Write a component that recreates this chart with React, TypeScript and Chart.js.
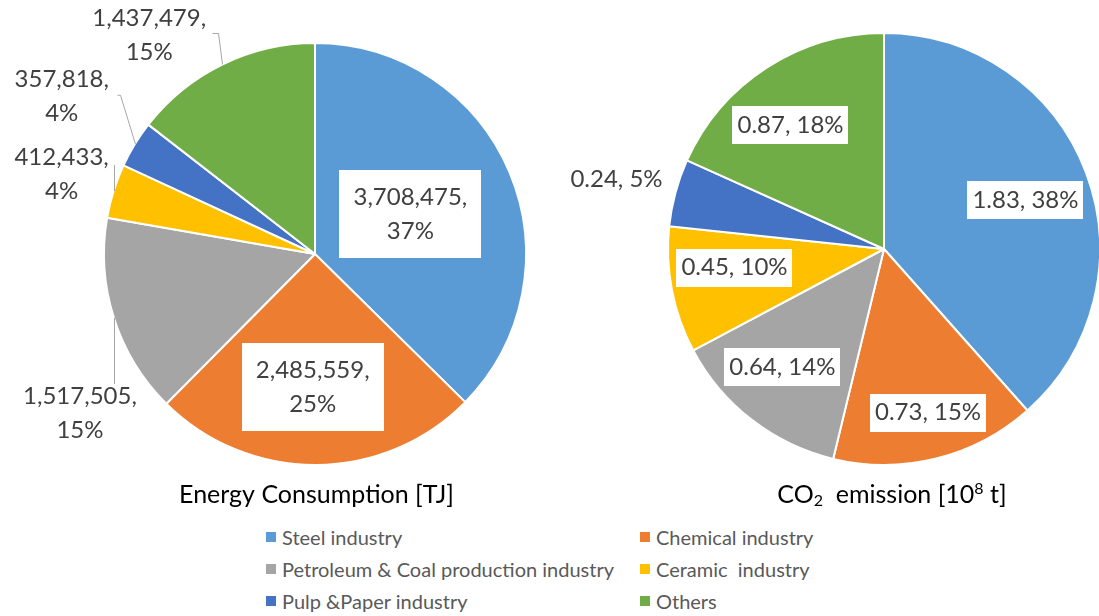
import React, { useEffect, useRef } from "react";
import { Chart, registerables } from "chart.js";

Chart.register(...registerables);

// ---------- data ----------
const categories = [
  "Steel industry",
  "Chemical industry",
  "Petroleum & Coal production industry",
  "Ceramic  industry",
  "Pulp &Paper industry",
  "Others",
];
const colors = ["#5B9BD5", "#ED7D31", "#A5A5A5", "#FFC000", "#4472C4", "#70AD47"];
const energyValues = [3708475, 2485559, 1517505, 412433, 357818, 1437479];
const energyPercents = ["37%", "25%", "15%", "4%", "4%", "15%"];
const co2Values = [1.83, 0.73, 0.64, 0.45, 0.24, 0.87];
const co2Percents = ["38%", "15%", "14%", "10%", "5%", "18%"];

const energyTexts = energyValues.map((v, i) => [v.toLocaleString("en-US") + ",", energyPercents[i]]);
const co2Texts = co2Values.map((v, i) => [v.toFixed(2) + ", " + co2Percents[i]]);

// ---------- label layout (styling) ----------
type LabelLayout = {
  mode: "box" | "out";
  r?: number;
  dx: number;
  dy: number;
  leader?: number[][];
};

const energyLayout: LabelLayout[] = [
  { mode: "box", r: 0.49, dx: 0, dy: 0 },
  { mode: "box", r: 0.63, dx: -3, dy: 0 },
  { mode: "out", dx: -34, dy: 95, leader: [[0, 0], [0, 66]] },
  { mode: "out", dx: -52, dy: -17, leader: [[0, 0], [0, -26]] },
  { mode: "out", dx: -73, dy: -48, leader: [[0, 0], [-15, -49], [-18, -49]] },
  { mode: "out", dx: -73, dy: -29, leader: [[0, 0], [-4, -31], [-10, -31]] },
];

const co2Layout: LabelLayout[] = [
  { mode: "box", r: 0.693, dx: 1.5, dy: 4 },
  { mode: "box", r: 0.786, dx: 3, dy: -1 },
  { mode: "box", r: 0.722, dx: -6, dy: -5 },
  { mode: "box", r: 0.698, dx: -1.5, dy: -10 },
  { mode: "out", dx: -59, dy: -13 },
  { mode: "box", r: 0.72, dx: -9, dy: 6.5 },
];

type Seg = { t: string; sub?: boolean; sup?: boolean };
const energyTitle: Seg[] = [{ t: "Energy Consumption [TJ]" }];
const co2Title: Seg[] = [
  { t: "CO" },
  { t: "2", sub: true },
  { t: "  emission [10" },
  { t: "8", sup: true },
  { t: " t]" },
];

const FONT = "Lato, 'Open Sans', sans-serif";

const pieLabelPlugin = {
  id: "pieLabels",
  afterDatasetsDraw(chart: any, _args: any, opts: any) {
    if (!opts || !opts.layout) return;
    const ctx: CanvasRenderingContext2D = chart.ctx;
    const meta = chart.getDatasetMeta(0);
    ctx.save();
    ctx.font = `${opts.fontSize}px ${FONT}`;
    ctx.textAlign = "center";
    ctx.textBaseline = "middle";
    meta.data.forEach((arc: any, i: number) => {
      const L: LabelLayout = opts.layout[i];
      const lines: string[] = opts.texts[i];
      const { x, y, startAngle, endAngle, outerRadius } = arc.getProps(
        ["x", "y", "startAngle", "endAngle", "outerRadius"],
        true
      );
      const mid = (startAngle + endAngle) / 2;
      const lh = opts.lineHeight;
      let cx: number, cy: number;
      if (L.mode === "box") {
        cx = x + Math.cos(mid) * outerRadius * (L.r as number) + L.dx;
        cy = y + Math.sin(mid) * outerRadius * (L.r as number) + L.dy;
        const w = Math.max(...lines.map((s) => ctx.measureText(s).width)) + opts.padX * 2;
        const h = lines.length * lh + opts.padY * 2;
        ctx.fillStyle = "#ffffff";
        ctx.fillRect(Math.round(cx - w / 2), Math.round(cy - h / 2), Math.round(w), Math.round(h));
      } else {
        const ex = x + Math.cos(mid) * outerRadius;
        const ey = y + Math.sin(mid) * outerRadius;
        cx = ex + L.dx;
        cy = ey + L.dy;
        if (L.leader) {
          ctx.strokeStyle = "#A6A6A6";
          ctx.lineWidth = 1;
          ctx.beginPath();
          L.leader.forEach((p, k) => {
            const px = Math.round(ex + p[0]) + 0.5;
            const py = ey + p[1];
            if (k === 0) ctx.moveTo(px, py);
            else ctx.lineTo(px, py);
          });
          ctx.stroke();
        }
      }
      ctx.fillStyle = "#404040";
      lines.forEach((s, k) => {
        const ty = cy - ((lines.length - 1) * lh) / 2 + k * lh;
        ctx.fillText(s, cx, ty);
      });
    });

    // title
    const segs: Seg[] = opts.title;
    const fs = opts.titleSize;
    const small = Math.round(fs * 0.62);
    const widths = segs.map((s) => {
      ctx.font = `${s.sub || s.sup ? small : fs}px ${FONT}`;
      return ctx.measureText(s.t).width;
    });
    const total = widths.reduce((a, b) => a + b, 0);
    let tx = opts.titleX - total / 2;
    ctx.textAlign = "left";
    ctx.textBaseline = "alphabetic";
    ctx.fillStyle = "#000000";
    segs.forEach((s, k) => {
      ctx.font = `${s.sub || s.sup ? small : fs}px ${FONT}`;
      let by = opts.titleY;
      if (s.sub) by += fs * 0.12;
      if (s.sup) by -= fs * 0.38;
      ctx.fillText(s.t, tx, by);
      tx += widths[k];
    });
    ctx.restore();
  },
};

type PieProps = {
  left: number;
  width: number;
  height: number;
  values: number[];
  texts: string[][];
  layout: LabelLayout[];
  padding: { left: number; right: number; top: number; bottom: number };
  radius: number;
  fontSize: number;
  lineHeight: number;
  padX: number;
  padY: number;
  title: Seg[];
  titleX: number;
  titleY: number;
};

function PieChart(p: PieProps) {
  const ref = useRef<HTMLCanvasElement | null>(null);
  useEffect(() => {
    if (!ref.current) return;
    const chart = new Chart(ref.current, {
      type: "pie",
      data: {
        labels: categories,
        datasets: [
          {
            data: p.values,
            backgroundColor: colors,
            borderColor: "#ffffff",
            borderWidth: 2,
          },
        ],
      },
      options: {
        responsive: false,
        animation: false,
        radius: p.radius,
        layout: { padding: p.padding },
        plugins: {
          legend: { display: false },
          tooltip: { enabled: false },
          // @ts-ignore
          pieLabels: {
            layout: p.layout,
            texts: p.texts,
            fontSize: p.fontSize,
            lineHeight: p.lineHeight,
            padX: p.padX,
            padY: p.padY,
            title: p.title,
            titleX: p.titleX,
            titleY: p.titleY,
            titleSize: 25,
          },
        },
      } as any,
      plugins: [pieLabelPlugin as any],
    });
    return () => chart.destroy();
  }, []);
  return (
    <canvas
      ref={ref}
      width={p.width}
      height={p.height}
      style={{ position: "absolute", left: p.left, top: 0, width: p.width, height: p.height }}
    />
  );
}

function Legend() {
  const colX = [266, 640];
  const rowY = [537, 569, 601];
  return (
    <>
      {categories.map((c, i) => {
        const col = i % 2;
        const row = Math.floor(i / 2);
        return (
          <div
            key={c}
            style={{
              position: "absolute",
              left: colX[col],
              top: rowY[row] - 13,
              height: 26,
              display: "flex",
              alignItems: "center",
              fontFamily: FONT,
              fontSize: 20,
              color: "#595959",
              whiteSpace: "pre",
            }}
          >
            <span
              style={{ display: "inline-block", width: 10, height: 10, background: colors[i], marginRight: 6 }}
            />
            <span>{c}</span>
          </div>
        );
      })}
    </>
  );
}

export default function App() {
  return (
    <div
      style={{
        position: "absolute",
        left: 0,
        top: 0,
        width: 1099,
        height: 616,
        background: "#ffffff",
        overflow: "hidden",
      }}
    >
      <PieChart
        left={0}
        width={600}
        height={520}
        values={energyValues}
        texts={energyTexts}
        layout={energyLayout}
        padding={{ left: 115, right: 85, top: 54, bottom: 66 }}
        radius={211}
        fontSize={24}
        lineHeight={34}
        padX={14}
        padY={10}
        title={energyTitle}
        titleX={316.5}
        titleY={503}
      />
      <PieChart
        left={560}
        width={539}
        height={520}
        values={co2Values}
        texts={co2Texts}
        layout={co2Layout}
        padding={{ left: 124, right: 15, top: 49, bottom: 71 }}
        radius={216}
        fontSize={24}
        lineHeight={28}
        padX={5}
        padY={5}
        title={co2Title}
        titleX={332}
        titleY={503}
      />
      <Legend />
    </div>
  );
}
